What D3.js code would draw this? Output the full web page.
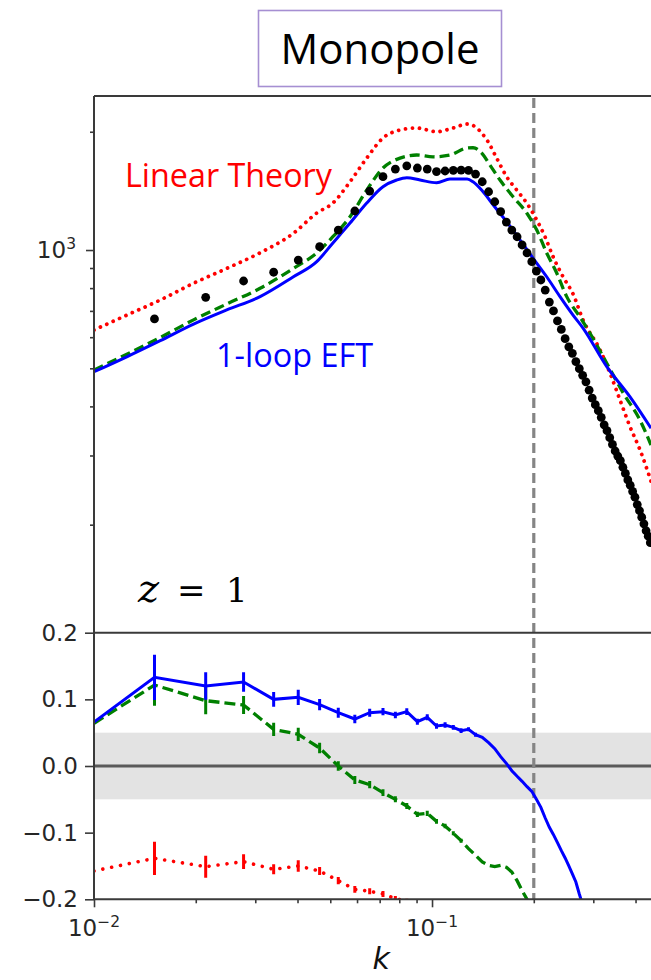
<!DOCTYPE html>
<html>
<head>
<meta charset="utf-8">
<script src="https://cdn.jsdelivr.net/npm/d3@7"></script>
<style>
  body { margin: 0; background: #fff; }
  svg { display: block; }
</style>
</head>
<body>
<div id="chart"></div>
<script>
// ---- values ----

// k bins of the measured spectrum (black dots) and of the ratio panel
let kBins = [0.0151, 0.0214, 0.0277, 0.034, 0.0402, 0.0465, 0.0528, 0.0591, 0.0654, 0.0716,
	0.0779, 0.0842, 0.0905, 0.0968, 0.1031, 0.1093, 0.1156, 0.1219, 0.1282, 0.1345,
	0.1408, 0.147, 0.1533, 0.1596, 0.1659, 0.1722, 0.1785, 0.1847, 0.191, 0.1973,
	0.2036, 0.2099, 0.2162, 0.2224, 0.2287, 0.235, 0.2413, 0.2476, 0.2539, 0.2601,
	0.2664, 0.2727, 0.279, 0.2853, 0.2916, 0.2978, 0.3041, 0.3104, 0.3167, 0.323,
	0.3293, 0.3355, 0.3418, 0.3481, 0.3544, 0.3607, 0.367, 0.3732, 0.3795, 0.3858,
	0.3921, 0.3984, 0.4047, 0.4109, 0.4172, 0.4235, 0.4298, 0.4361, 0.4424];

let pData = [668, 758, 834, 878, 943, 1020, 1124, 1257, 1413, 1537,
	1607, 1638, 1617, 1607, 1584, 1589, 1595, 1598, 1594, 1561,
	1492, 1407, 1327, 1252, 1178, 1124, 1081, 1030, 983, 934,
	884, 839, 791, 737, 700, 660, 628, 595, 567, 546,
	520, 499, 480, 462, 440, 420, 404, 390, 375, 359,
	347, 333, 320, 308, 299, 291, 280, 270, 260, 252,
	243, 235, 225, 217, 209, 201, 193, 187, 180];

// 1-loop EFT (blue)
let kEft = [0.01, 0.0125, 0.0157, 0.0197, 0.0247, 0.031, 0.0389, 0.0456, 0.0509, 0.0572, 0.0641,
	0.0716, 0.0786, 0.0842, 0.0922, 0.1032, 0.113, 0.127, 0.1322, 0.1416, 0.1518, 0.1663,
	0.1822, 0.1989, 0.2184, 0.2391, 0.2613, 0.2797, 0.3288, 0.3853, 0.4445];
let pEft = [490, 535, 588, 648, 704, 761, 855, 934, 1042, 1171, 1317,
	1449, 1507, 1528, 1507, 1483, 1516, 1516, 1492, 1407, 1302, 1180,
	1060, 954, 855, 761, 683, 633, 505, 423, 352];

// green dashed model
let kSpt = [0.01, 0.0157, 0.0197, 0.0247, 0.031, 0.0389, 0.0456, 0.0509, 0.0572, 0.0641, 0.0716,
	0.0804, 0.0901, 0.1007, 0.113, 0.127, 0.1322, 0.1403, 0.1484, 0.1589, 0.1737, 0.1906,
	0.2041, 0.2184, 0.2338, 0.2503, 0.274, 0.2934, 0.3288, 0.3681, 0.4124, 0.4445];
let pSpt = [495, 599, 664, 729, 799, 898, 983, 1081, 1215, 1421, 1617,
	1714, 1745, 1727, 1745, 1818, 1821, 1765, 1645, 1507, 1366, 1242,
	1124, 983, 874, 761, 675, 614, 515, 432, 369, 319];

// linear theory (red dotted)
let kLin = [0.01, 0.0125, 0.0157, 0.0197, 0.0247, 0.031, 0.0389, 0.0456, 0.0509, 0.0572, 0.0641,
	0.0716, 0.0804, 0.0901, 0.1032, 0.1154, 0.127, 0.1341, 0.1403, 0.1464, 0.1553, 0.1663,
	0.1781, 0.1906, 0.2041, 0.2159, 0.228, 0.2441, 0.2613, 0.2797, 0.314, 0.3362, 0.3599,
	0.3853, 0.4124, 0.4445];
let pLin = [626, 683, 746, 823, 898, 984, 1103, 1242, 1317, 1492, 1714,
	1928, 2020, 2044, 2000, 2044, 2093, 2060, 1985, 1887, 1714, 1536,
	1421, 1317, 1192, 1081, 962, 855, 773, 664, 557, 486, 415,
	355, 310, 258];

// ratio panel: first value is where each line meets the left axis (k = 0.01), then kBins in order
let kEdge = 0.01;
let ratioEft = [0.066, 0.133, 0.120, 0.126, 0.100, 0.103, 0.092, 0.080, 0.0705, 0.080, 0.0815,
	0.0765, 0.0815, 0.0665, 0.073, 0.060, 0.0615, 0.058, 0.053, 0.055, 0.047,
	0.043, 0.035, 0.026, 0.014, 0.004, -0.007, -0.0155, -0.023, -0.031, -0.038,
	-0.050, -0.062, -0.078, -0.092, -0.103, -0.115, -0.127, -0.138, -0.150, -0.162,
	-0.174, -0.192, -0.208];
let ratioSpt = [0.064, 0.1215, 0.098, 0.0915, 0.055, 0.0475, 0.027, 0.000, -0.021, -0.028, -0.040,
	-0.050, -0.060, -0.0725, -0.071, -0.083, -0.090, -0.101, -0.112, -0.124, -0.134,
	-0.144, -0.149, -0.151, -0.149, -0.152, -0.159, -0.172, -0.187, -0.200, -0.213];
let ratioLin = [-0.1575, -0.1385, -0.151, -0.1435, -0.155, -0.150, -0.1575, -0.172, -0.185, -0.188,
	-0.192, -0.199, -0.203, -0.207];

// error bar half lengths, one per k bin from the first bin on
let errEft = [0.034, 0.0205, 0.0145, 0.011, 0.0115, 0.0085, 0.0075, 0.0065, 0.006, 0.0055,
	0.005, 0.005, 0.0045, 0.0045, 0.004, 0.004, 0.0035, 0.0035, 0.003, 0.003];
let errSpt = [0.031, 0.0205, 0.0135, 0.010, 0.010, 0.008, 0.007, 0.006, 0.0055, 0.005,
	0.0045, 0.0045, 0.004, 0.004, 0.0035, 0.0035, 0.003, 0.003];
let errLin = [0.025, 0.0165, 0.011, 0.0075, 0.0087, 0.006, 0.0055, 0.005, 0.0045, 0.0045, 0.004, 0.004];

// axes
let xDomain = [0.01, 0.5];
let xMajor = [0.01, 0.1];
let xMajorExp = ['\u22122', '\u22121'];
let xMinor = [0.02, 0.03, 0.04, 0.05, 0.06, 0.07, 0.08, 0.09, 0.2, 0.3, 0.4, 0.5];
let yTopDomain = [106.2, 2466];
let yTopMajor = [1000];
let yTopMinor = [200, 300, 400, 500, 600, 700, 800, 900, 2000];
let yBotDomain = [-0.2, 0.2];
let yBotTicks = [-0.2, -0.1, 0, 0.1, 0.2];
let band = [-0.05, 0.05];
let kCut = 0.2;

// ---- layout ----
let width = 651,
	height = 980,
	left = 94,
	right = 668.3,
	topY = 96,
	midY = 632.7,
	botY = 899.3;

let svg = d3.select('#chart').append('svg')
	.attr('width', width)
	.attr('height', height);

let x = d3.scaleLog().domain(xDomain).range([left, right]);
let yTop = d3.scaleLog().domain(yTopDomain).range([midY, topY]);
let yBot = d3.scaleLinear().domain(yBotDomain).range([botY, midY]);

let defs = svg.append('defs');
defs.append('clipPath').attr('id', 'clipTop').append('rect')
	.attr('x', left).attr('y', topY).attr('width', right - left).attr('height', midY - topY);
defs.append('clipPath').attr('id', 'clipBot').append('rect')
	.attr('x', left).attr('y', midY).attr('width', right - left).attr('height', botY - midY);

// title box
svg.append('rect')
	.attr('x', 258.5).attr('y', 10.5).attr('width', 243).attr('height', 76)
	.attr('fill', 'none').attr('stroke', '#a68fd2').attr('stroke-width', 1.6);
svg.append('text')
	.attr('x', 280.5).attr('y', 63.5)
	.attr('font-family', 'Open Sans').attr('font-size', 42)
	.attr('textLength', 199).attr('lengthAdjust', 'spacingAndGlyphs')
	.attr('fill', '#000')
	.text('Monopole');

// ---- bottom panel background ----
svg.append('rect')
	.attr('x', left).attr('width', right - left)
	.attr('y', yBot(band[1])).attr('height', yBot(band[0]) - yBot(band[1]))
	.attr('fill', '#e3e3e3');
svg.append('line')
	.attr('x1', left).attr('x2', right).attr('y1', yBot(0)).attr('y2', yBot(0))
	.attr('stroke', '#5a5a5a').attr('stroke-width', 3);

// vertical k cut, both panels
svg.append('line')
	.attr('x1', x(kCut)).attr('x2', x(kCut)).attr('y1', topY + 2).attr('y2', botY)
	.attr('stroke', '#858585').attr('stroke-width', 3.2).attr('stroke-dasharray', '10,5');

// ---- top panel ----
let topLine = d3.line()
	.x(d => x(d[0]))
	.y(d => yTop(d[1]))
	.curve(d3.curveMonotoneX);

let gTop = svg.append('g').attr('clip-path', 'url(#clipTop)');

gTop.append('path').datum(d3.zip(kLin, pLin))
	.attr('d', topLine).attr('fill', 'none')
	.attr('stroke', '#ff0000').attr('stroke-width', 3.8)
	.attr('stroke-linecap', 'round').attr('stroke-dasharray', '0.01,7');

gTop.append('path').datum(d3.zip(kSpt, pSpt))
	.attr('d', topLine).attr('fill', 'none')
	.attr('stroke', '#008000').attr('stroke-width', 3.3).attr('stroke-dasharray', '10,5');

gTop.append('path').datum(d3.zip(kEft, pEft))
	.attr('d', topLine).attr('fill', 'none')
	.attr('stroke', '#0000ff').attr('stroke-width', 3);

gTop.selectAll('.dot')
	.data(d3.zip(kBins, pData))
	.enter().append('circle').classed('dot', true)
	.attr('cx', d => x(d[0]))
	.attr('cy', d => yTop(d[1]))
	.attr('r', 4.4)
	.attr('fill', '#000');

// ---- bottom panel ----
let botLine = d3.line()
	.x(d => x(d[0]))
	.y(d => yBot(d[1]));

let kRatio = [kEdge].concat(kBins);
let gBot = svg.append('g').attr('clip-path', 'url(#clipBot)');

function ratioSeries(vals, errs, color, width, dash, cap) {
	let pts = d3.zip(kRatio.slice(0, vals.length), vals);
	gBot.append('path').datum(pts)
		.attr('d', botLine).attr('fill', 'none')
		.attr('stroke', color).attr('stroke-width', width)
		.attr('stroke-dasharray', dash).attr('stroke-linecap', cap);
	gBot.selectAll(null)
		.data(errs.map((e, i) => ({ k: kBins[i], v: vals[i + 1], e: e })))
		.enter().append('line')
		.attr('x1', d => x(d.k)).attr('x2', d => x(d.k))
		.attr('y1', d => yBot(d.v - d.e)).attr('y2', d => yBot(d.v + d.e))
		.attr('stroke', color).attr('stroke-width', 3);
}

ratioSeries(ratioLin, errLin, '#ff0000', 3.6, '0.01,9', 'round');
ratioSeries(ratioSpt, errSpt, '#008000', 3.3, '11,5', 'butt');
ratioSeries(ratioEft, errEft, '#0000ff', 3, null, 'butt');

// ---- spines ----
let spine = '#3a3a3a';
svg.append('line').attr('x1', left).attr('x2', left).attr('y1', topY).attr('y2', botY)
	.attr('stroke', spine).attr('stroke-width', 2);
[topY, midY, botY].forEach(function (yy) {
	svg.append('line').attr('x1', left).attr('x2', right).attr('y1', yy).attr('y2', yy)
		.attr('stroke', spine).attr('stroke-width', 2);
});

// ---- axes ----
function styleAxis(g) {
	g.select('.domain').remove();
	g.selectAll('.tick line').attr('stroke', spine).attr('stroke-width', 1.6);
	g.selectAll('text').remove();
}

svg.append('g').attr('transform', 'translate(' + left + ',0)')
	.call(d3.axisLeft(yTop).tickValues(yTopMinor).tickSize(4)).call(styleAxis);
svg.append('g').attr('transform', 'translate(' + left + ',0)')
	.call(d3.axisLeft(yTop).tickValues(yTopMajor).tickSize(8)).call(styleAxis);
svg.append('g').attr('transform', 'translate(' + left + ',0)')
	.call(d3.axisLeft(yBot).tickValues(yBotTicks).tickSize(9)).call(styleAxis);
svg.append('g').attr('transform', 'translate(0,' + botY + ')')
	.call(d3.axisBottom(x).tickValues(xMinor).tickSize(4)).call(styleAxis);
svg.append('g').attr('transform', 'translate(0,' + botY + ')')
	.call(d3.axisBottom(x).tickValues(xMajor).tickSize(8)).call(styleAxis);

let tickFont = 'DejaVu Sans';
let tickColor = '#262626';

// 10^3 label
yTopMajor.forEach(function (v) {
	let t = svg.append('text')
		.attr('x', 76).attr('y', yTop(v) + 8)
		.attr('text-anchor', 'end')
		.attr('font-family', tickFont).attr('font-size', 23).attr('fill', tickColor);
	t.append('tspan').text('10');
	t.append('tspan').attr('dy', -9).attr('font-size', 15.5).text(Math.round(Math.log10(v)));
});

// ratio labels
let fmt = d3.format('.1f');
yBotTicks.forEach(function (v) {
	svg.append('text')
		.attr('x', 78).attr('y', yBot(v) + 8)
		.attr('text-anchor', 'end')
		.attr('font-family', tickFont).attr('font-size', 23).attr('fill', tickColor)
		.text(fmt(v));
});

// k labels
xMajor.forEach(function (v, i) {
	let t = svg.append('text')
		.attr('x', x(v)).attr('y', 936)
		.attr('text-anchor', 'middle')
		.attr('font-family', tickFont).attr('font-size', 23).attr('fill', tickColor);
	t.append('tspan').text('10');
	t.append('tspan').attr('dy', -9.5).attr('font-size', 15.5).text(xMajorExp[i]);
});

// axis title, kept just inside the bottom edge
svg.append('text')
	.attr('x', (left + right) / 2).attr('y', 969)
	.attr('text-anchor', 'middle')
	.attr('font-family', tickFont).attr('font-style', 'italic').attr('font-size', 30)
	.attr('fill', '#111')
	.text('k');

// ---- annotations ----
svg.append('text')
	.attr('x', 125).attr('y', 187.3)
	.attr('font-family', 'Open Sans').attr('font-size', 32)
	.attr('textLength', 207).attr('lengthAdjust', 'spacingAndGlyphs')
	.attr('fill', '#ff0000')
	.text('Linear Theory');

svg.append('text')
	.attr('x', 216).attr('y', 366.7)
	.attr('font-family', 'Open Sans').attr('font-size', 32)
	.attr('textLength', 157).attr('lengthAdjust', 'spacingAndGlyphs')
	.attr('fill', '#0000ff')
	.text('1-loop EFT');

let zLabel = svg.append('text')
	.attr('y', 601.7)
	.attr('font-family', 'DejaVu Serif').attr('fill', '#000');
zLabel.append('tspan').attr('x', 138).attr('font-style', 'italic').attr('font-size', 40).text('z');
zLabel.append('tspan').attr('x', 177).attr('font-size', 34).text('=');
zLabel.append('tspan').attr('x', 226).attr('font-size', 34).text('1');
</script>
</body>
</html>
